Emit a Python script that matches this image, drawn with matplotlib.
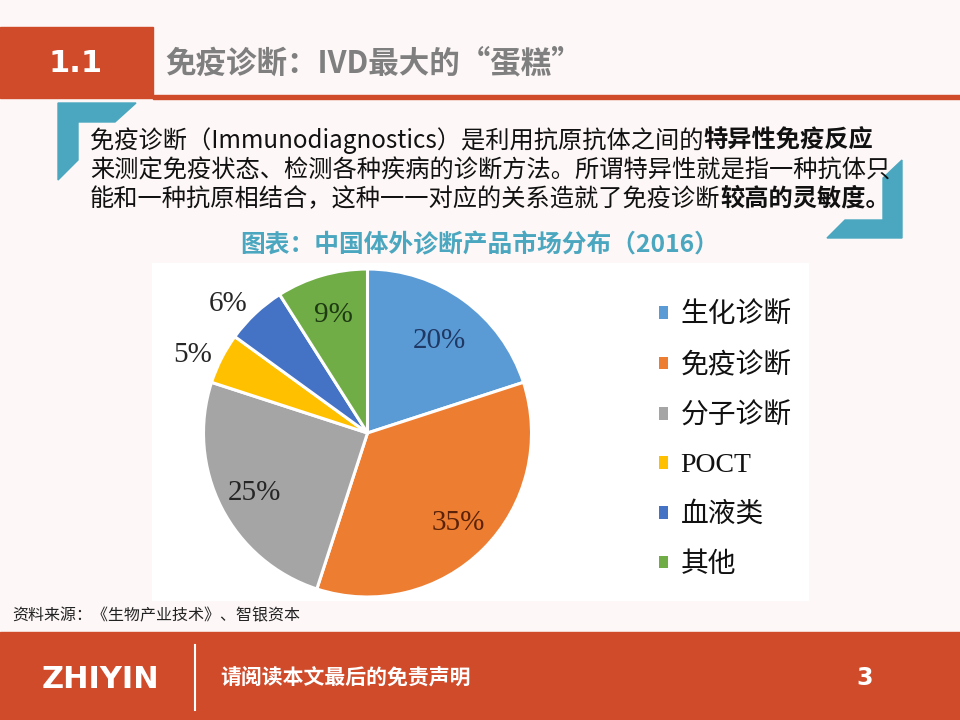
import matplotlib
matplotlib.use("Agg")
import matplotlib.pyplot as plt
from matplotlib.patches import Rectangle, Polygon, Patch
import numpy as np

plt.rcParams['font.family'] = ['Noto Sans CJK SC', 'DejaVu Sans']

# ---- data ----
categories = ['生化诊断', '免疫诊断', '分子诊断', 'POCT', '血液类', '其他']
values = [20, 35, 25, 5, 6, 9]
pie_colors = ['#5B9BD5', '#ED7D31', '#A5A5A5', '#FFC000', '#4472C4', '#70AD47']
label_colors = ['#1F3864', '#5A2208', '#262626', '#262626', '#262626', '#1E3A12']
label_dist = [0.71, 0.78, 0.78, 1.165, 1.16, 0.75]
label_angle_shift = [-2, 0, 1, 3, 4, 0]

section_no = '1.1'
title = '免疫诊断：IVD最大的“蛋糕”'
body_lines = [
    [('免疫诊断（Immunodiagnostics）是利用抗原抗体之间的', 'normal'), ('特异性免疫反应', 'bold')],
    [('来测定免疫状态、检测各种疾病的诊断方法。所谓特异性就是指一种抗体只', 'normal')],
    [('能和一种抗原相结合，这种一一对应的关系造就了免疫诊断', 'normal'), ('较高的灵敏度。', 'bold')],
]
chart_title = '图表：中国体外诊断产品市场分布（2016）'
source = '资料来源：《生物产业技术》、智银资本'
footer_note = '请阅读本文最后的免责声明'
page_no = '3'
logo = 'ZHIYIN'

RED = '#D04B2A'
TEAL = '#4AA7BF'

W, H = 960, 720
fig = plt.figure(figsize=(9.6, 7.2), dpi=100)
fig.patch.set_facecolor('#FDF7F7')

bg = fig.add_axes([0, 0, 1, 1])
bg.set_xlim(0, W)
bg.set_ylim(H, 0)
bg.axis('off')

# header
bg.add_patch(Rectangle((0, 27), 153, 71, color=RED, zorder=1))
bg.add_patch(Rectangle((153, 95), W - 153, 4, color=RED, zorder=1))
bg.text(76, 63, section_no, color='white', fontsize=22, fontweight='bold',
        ha='center', va='center', family=['DejaVu Sans'])
bg.text(165, 63, title, color='#7F7F7F', fontsize=22, fontweight='bold',
        ha='left', va='center')

# bracket decorations
bg.add_patch(Polygon([(58, 103), (136, 103), (115, 122), (78, 122), (78, 160), (58, 180)],
                     closed=True, color=TEAL, zorder=2))
bg.add_patch(Polygon([(902, 160), (902, 238), (827, 238), (845, 220), (883, 220), (883, 178)],
                     closed=True, color=TEAL, zorder=2))

# body text with mixed weights
fig.canvas.draw()
renderer = fig.canvas.get_renderer()
line_y = [141, 170, 199]
for segs, y in zip(body_lines, line_y):
    x = 90
    for s, w in segs:
        t = bg.text(x, y, s, fontsize=17.45, fontweight=w, color='#111111',
                    ha='left', va='center', zorder=3)
        bb = t.get_window_extent(renderer=renderer)
        x = bb.x1  # pixels == data units horizontally

bg.text(480, 245, chart_title, color=TEAL, fontsize=17.8, fontweight='bold',
        ha='center', va='center')

# chart white box
bg.add_patch(Rectangle((152, 263), 656, 337, color='white', zorder=0.5))

# source
bg.text(12, 616, source, fontsize=11.5, color='#222222', ha='left', va='center')

# footer
bg.add_patch(Rectangle((0, 632), W, H - 632, color=RED, zorder=1))
bg.plot([195, 195], [645, 710], color='white', lw=1.5, zorder=2)
bg.text(100, 680, logo, color='white', fontsize=22, fontweight='bold',
        ha='center', va='center', family=['DejaVu Sans'], zorder=3)
bg.text(220, 678, footer_note, color='white', fontsize=15, fontweight='bold',
        ha='left', va='center', zorder=3)
bg.text(865, 678, page_no, color='white', fontsize=17, fontweight='bold',
        ha='center', va='center', family=['DejaVu Sans'], zorder=3)

# pie
cx, cy, R = 367.5, 433, 164
ax = fig.add_axes([(cx - R) / W, (H - cy - R) / H, 2 * R / W, 2 * R / H])
wedges, _ = ax.pie(values, colors=pie_colors, startangle=90, counterclock=False,
                   radius=1.0, wedgeprops=dict(edgecolor='white', linewidth=2.2))
ax.set_xlim(-1, 1)
ax.set_ylim(-1, 1)
ax.set_aspect('equal')
ax.axis('off')
for w, v, d, c, sh in zip(wedges, values, label_dist, label_colors, label_angle_shift):
    ang = np.deg2rad((w.theta1 + w.theta2) / 2 + sh)
    ax.text(d * np.cos(ang), d * np.sin(ang), f'{v}%', ha='center', va='center',
            fontsize=21, color=c, family=['Liberation Serif'], clip_on=False)

handles = [Patch(facecolor=c, edgecolor='none') for c in pie_colors]
leg = fig.legend(handles, categories, loc='upper left',
                 bbox_to_anchor=(659 / W, 1 - 302.5 / H), frameon=False,
                 prop={'family': ['Liberation Serif', 'Noto Sans CJK SC'], 'size': 20},
                 handlelength=0.33, handleheight=0.33, handletextpad=0.45,
                 labelspacing=0.87, borderpad=0, borderaxespad=0, labelcolor='#111111')

fig.savefig('out.png', dpi=100, facecolor=fig.get_facecolor())
